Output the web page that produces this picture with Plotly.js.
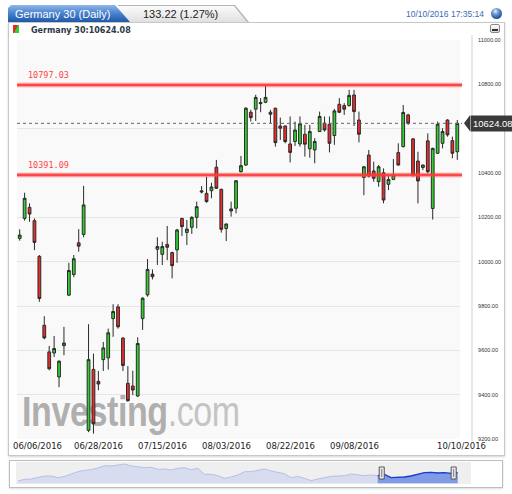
<!DOCTYPE html>
<html>
<head>
<meta charset="utf-8">
<script src="https://cdn.plot.ly/plotly-3.0.1.min.js"></script>
<style>
  html,body{margin:0;padding:0;background:#fff;overflow:hidden;width:512px;height:494px;}
  .abs{position:absolute;box-sizing:border-box;}
</style>
</head>
<body>
<div id="bg" class="abs" style="left:0;top:0;width:512px;height:494px;">
  <div class="abs" style="left:8px;top:22px;width:497px;height:434px;border:1px solid #c8c8c8;background:#fff;box-shadow:0 1px 2px rgba(0,0,0,0.18);"></div>
  <div class="abs" style="left:118px;top:5px;width:131px;height:17px;background:#b4b4b4;clip-path:polygon(0 0,117px 0,131px 100%,0 100%);"></div>
  <div class="abs" style="left:118px;top:6px;width:129px;height:16px;background:linear-gradient(#fbfbfb,#e0e0e0);clip-path:polygon(0 0,116px 0,129px 100%,0 100%);"></div>
  <div class="abs" style="left:8px;top:5px;width:122px;height:17px;background:linear-gradient(#8fb8ea 0%,#4d85cf 45%,#1e58a7 100%);clip-path:polygon(0 3px,3px 0,107px 0,122px 100%,0 100%);"></div>
  <div class="abs" style="left:491px;top:8px;width:11px;height:11px;border-radius:50%;background:radial-gradient(circle at 40% 30%,#e8f0fb 0%,#6f9ad6 30%,#24549f 70%,#173a78 100%);"></div>
  <div class="abs" style="left:13px;top:25px;width:6px;height:8px;background:linear-gradient(120deg,#e52a2a 50%,#2fcf2f 50%);"></div>
  <div class="abs" style="left:490px;top:24px;width:10px;height:9px;border:1px solid #8a8a8a;border-radius:2px;background:linear-gradient(#ffffff,#d8d8d8);"></div>
  <div class="abs" style="left:492px;top:29px;width:6px;height:2px;background:#333;"></div>
  <div class="abs" style="left:17px;top:40px;width:443px;height:399px;background:#f9f9f9;"></div>
  <div class="abs" style="left:22px;top:391px;white-space:nowrap;font-family:'Liberation Sans',Arial,sans-serif;font-size:42px;line-height:42px;transform:scaleX(0.81);transform-origin:left top;letter-spacing:-0.5px;"><span style="font-weight:bold;color:#afafaf;">Investing</span><span style="color:#c4c4c4;">.com</span></div>
  <div class="abs" style="left:9px;top:460px;width:494px;height:28px;border:1px solid #bdbdbd;background:#fff;box-shadow:0 1px 2px rgba(0,0,0,0.15);"></div>
  <div class="abs" style="left:16px;top:462px;width:455px;height:22px;background:#efefef;"></div>
</div>
<div id="chart" class="abs" style="left:0;top:0;width:512px;height:494px;"></div>
<script>
// ---------------- data ----------------
const dates = [
 "06/06/2016","06/07/2016","06/08/2016","06/09/2016","06/10/2016","06/13/2016","06/14/2016","06/15/2016","06/16/2016","06/17/2016",
 "06/20/2016","06/21/2016","06/22/2016","06/23/2016","06/24/2016","06/27/2016","06/28/2016","06/29/2016","06/30/2016",
 "07/01/2016","07/04/2016","07/05/2016","07/06/2016","07/07/2016","07/08/2016","07/11/2016","07/12/2016","07/13/2016","07/14/2016","07/15/2016",
 "07/18/2016","07/19/2016","07/20/2016","07/21/2016","07/22/2016","07/25/2016","07/26/2016","07/27/2016","07/28/2016","07/29/2016",
 "08/01/2016","08/02/2016","08/03/2016","08/04/2016","08/05/2016","08/08/2016","08/09/2016","08/10/2016","08/11/2016","08/12/2016",
 "08/15/2016","08/16/2016","08/17/2016","08/18/2016","08/19/2016","08/22/2016","08/23/2016","08/24/2016","08/25/2016","08/26/2016",
 "08/29/2016","08/30/2016","08/31/2016","09/01/2016","09/02/2016","09/05/2016","09/06/2016","09/07/2016","09/08/2016","09/09/2016",
 "09/12/2016","09/13/2016","09/14/2016","09/15/2016","09/16/2016","09/19/2016","09/20/2016","09/21/2016","09/22/2016","09/23/2016",
 "09/26/2016","09/27/2016","09/28/2016","09/29/2016","09/30/2016","10/04/2016","10/05/2016","10/06/2016","10/07/2016","10/10/2016"
];
const opens = [
 10105,10195,10245,10185,10024,9713,9593,9588,9480,9621,
 9849,9942,10085,10123,9239,9514,9460,9558,9566,
 9743,9796,9655,9451,9439,9394,9743,9850,9944,10056,10033,
 10078,10041,10053,10195,10132,10155,10200,10314,10308,10320,
 10426,10326,10150,10238,10241,10406,10436,10674,10688,10718,
 10719,10665,10692,10612,10612,10531,10542,10531,10575,10509,
 10504,10587,10625,10620,10569,10710,10704,10704,10752,10639,
 10380,10481,10409,10361,10401,10349,10371,10492,10519,10662,
 10554,10454,10425,10545,10240,10489,10534,10639,10546,10496
];
const highs = [
 10146,10311,10263,10195,10030,9754,9620,9665,9555,9706,
 9995,10030,10147,10342,9718,9585,9507,9638,9698,
 9808,9808,9660,9529,9508,9659,9840,10012,9965,10110,10090,
 10161,10045,10148,10198,10188,10205,10271,10341,10383,10356,
 10459,10330,10172,10271,10368,10477,10697,10685,10753,10738,
 10798,10685,10695,10650,10615,10655,10632,10655,10617,10617,
 10557,10677,10655,10655,10689,10738,10715,10775,10775,10677,
 10432,10504,10451,10436,10421,10386,10463,10534,10707,10667,
 10557,10496,10438,10579,10514,10632,10602,10642,10564,10639
];
const lows = [
 10095,10185,10180,10052,9819,9650,9510,9570,9434,9578,
 9845,9930,10045,10110,9231,9224,9420,9507,9513,
 9661,9698,9507,9368,9398,9390,9692,9842,9920,9985,9985,
 10007,9925,9995,10116,10075,10125,10150,10308,10266,10286,
 10328,10131,10093,10203,10218,10402,10432,10632,10635,10674,
 10715,10625,10519,10549,10534,10448,10522,10519,10474,10469,
 10444,10585,10587,10493,10527,10670,10662,10700,10612,10538,
 10300,10380,10361,10338,10263,10323,10368,10433,10515,10617,
 10383,10263,10413,10398,10190,10486,10511,10564,10466,10459
];
const closes = [
 10120,10286,10215,10087,9834,9656,9517,9608,9551,9633,
 9960,10013,10070,10256,9558,9269,9448,9611,9679,
 9775,9706,9532,9373,9421,9631,9835,9965,9932,10068,10068,
 10065,9982,10143,10158,10147,10200,10248,10319,10271,10337,
 10331,10146,10170,10229,10365,10433,10692,10650,10741,10713,
 10741,10674,10537,10602,10542,10493,10594,10622,10530,10587,
 10542,10655,10594,10534,10680,10674,10688,10750,10677,10575,
 10428,10386,10376,10428,10278,10371,10391,10436,10673,10624,
 10391,10364,10436,10406,10511,10620,10587,10572,10489,10624
];
const levels = [10797.03, 10391.09];
const lastPrice = 10624.08;
const changeText = "133.22 (1.27%)";
const yTicks = [9200, 9400, 9600, 9800, 10000, 10200, 10400, 10600, 10800, 11000];
const xTickLabels = ["06/06/2016","06/28/2016","07/15/2016","08/03/2016","08/22/2016","09/08/2016","10/10/2016"];
const navValues = [
 7,12,13,18,22,22,17,21,29,35,39,41,46,53,52,55,58,52,49,47,48,42,43,40,45,47,41,45,
 27,27,23,15,19,25,35,35,39,43,37,33,29,17,21,15,8,13,18,21,22,23,28,25,23,25,23,
 27,17,17,19,22,27,32,33,31,32,30,32
];
const navSelStart = 54;

// ---------------- helpers (pixel -> paper) ----------------
const W = 512, H = 494;
const PX = x => x / W;
const PY = y => 1 - y / H;

const navX = navValues.map((v, i) => i);

const traces = [
  {
    type: 'candlestick', x: dates, open: opens, high: highs, low: lows, close: closes,
    xaxis: 'x', yaxis: 'y',
    increasing: {fillcolor: '#2fd12f', line: {color: '#2a2a2a', width: 1}},
    decreasing: {fillcolor: '#ee2b2b', line: {color: '#2a2a2a', width: 1}},
    whiskerwidth: 0, hoverinfo: 'skip', showlegend: false
  },
  {
    type: 'scatter', mode: 'lines', x: navX, y: navValues, xaxis: 'x2', yaxis: 'y2',
    fill: 'tozeroy', fillcolor: '#d8dcef', line: {color: '#b7bfe8', width: 1},
    hoverinfo: 'skip', showlegend: false
  },
  {
    type: 'scatter', mode: 'lines', x: navX.slice(navSelStart), y: navValues.slice(navSelStart),
    xaxis: 'x2', yaxis: 'y2',
    fill: 'tozeroy', fillcolor: '#7f9be6', line: {color: '#1a3cd0', width: 1.3},
    hoverinfo: 'skip', showlegend: false
  }
];

const shapes = [];
// vertical separator between plot and price scale
shapes.push({type: 'line', xref: 'paper', yref: 'paper', x0: PX(472), x1: PX(472), y0: PY(35), y1: PY(441),
  line: {color: '#d2d2d2', width: 1}, layer: 'below'});
// support / resistance levels
levels.forEach(v => {
  shapes.push({type: 'line', xref: 'paper', yref: 'y', x0: PX(17), x1: PX(462), y0: v, y1: v,
    line: {color: 'rgba(255,80,80,0.35)', width: 5}, layer: 'above'});
  shapes.push({type: 'line', xref: 'paper', yref: 'y', x0: PX(17), x1: PX(462), y0: v, y1: v,
    line: {color: 'rgba(255,55,55,0.9)', width: 2.4}, layer: 'above'});
});
// last price dotted line
shapes.push({type: 'line', xref: 'paper', yref: 'y', x0: PX(17), x1: PX(462), y0: lastPrice, y1: lastPrice,
  line: {color: '#666', width: 1, dash: 'dot'}, layer: 'above'});
// price tag arrow
shapes.push({type: 'path', xref: 'paper', yref: 'y',
  path: `M ${PX(470)} ${lastPrice + 36} L ${PX(464)} ${lastPrice} L ${PX(470)} ${lastPrice - 36} Z`,
  fillcolor: '#3a3a3a', line: {width: 0}, layer: 'above'});
// navigator handles
[navSelStart + 0.6, navValues.length - 1 - 0.6].forEach(xv => {
  shapes.push({type: 'rect', xref: 'x2', yref: 'paper', x0: xv - 0.38, x1: xv + 0.38, y0: PY(479), y1: PY(467),
    fillcolor: '#ececec', line: {color: '#555', width: 1}, layer: 'above'});
  shapes.push({type: 'line', xref: 'x2', yref: 'paper', x0: xv, x1: xv, y0: PY(477), y1: PY(469),
    line: {color: '#777', width: 1}, layer: 'above'});
});

const annotations = [];
// header
annotations.push({xref: 'paper', yref: 'paper', x: PX(13), y: PY(14), xanchor: 'left', yanchor: 'middle',
  text: 'Germany 30 (Daily)', showarrow: false, font: {family: 'Liberation Sans, Arial, sans-serif', size: 11, color: '#ffffff'}});
annotations.push({xref: 'paper', yref: 'paper', x: PX(141), y: PY(14), xanchor: 'left', yanchor: 'middle',
  text: changeText, showarrow: false, font: {family: 'Liberation Sans, Arial, sans-serif', size: 11, color: '#222'}});
annotations.push({xref: 'paper', yref: 'paper', x: PX(486), y: PY(13.5), xanchor: 'right', yanchor: 'middle',
  text: '10/10/2016 17:35:14', showarrow: false, font: {family: 'Liberation Sans, Arial, sans-serif', size: 8.5, color: '#3a6db5'}});
annotations.push({xref: 'paper', yref: 'paper', x: PX(29), y: PY(30), xanchor: 'left', yanchor: 'middle',
  text: '<b>Germany 30:' + lastPrice.toFixed(2) + '</b>', showarrow: false,
  font: {family: 'DejaVu Sans, sans-serif', size: 8, color: '#2b3a48'}});
// level labels
levels.forEach(v => {
  annotations.push({xref: 'paper', yref: 'y', x: PX(26), y: v, yshift: 10, xanchor: 'left', yanchor: 'middle',
    text: v.toFixed(2), showarrow: false, font: {family: 'DejaVu Sans Mono, monospace', size: 8.5, color: '#ff4545'}});
});
// last price tag (kept inside the page width)
annotations.push({xref: 'paper', yref: 'y', x: PX(470), y: lastPrice, xanchor: 'left', yanchor: 'middle',
  text: lastPrice.toFixed(2), showarrow: false, bgcolor: '#3a3a3a', borderpad: 2,
  font: {family: 'Liberation Sans, Arial, sans-serif', size: 9.5, color: '#ffffff'}});
// date labels
xTickLabels.forEach((t, k) => {
  const idx = dates.indexOf(t);
  const a = {xref: 'x', yref: 'paper', x: idx, y: PY(446), yanchor: 'middle', xanchor: 'center',
    text: t, showarrow: false, font: {family: 'DejaVu Sans, sans-serif', size: 8.5, color: '#222'}};
  if (k === 0) { a.xanchor = 'left'; a.xshift = -9; }
  if (k === xTickLabels.length - 1) { a.xanchor = 'right'; a.xshift = 31; }
  annotations.push(a);
});

const layout = {
  width: W, height: H,
  margin: {l: 0, r: 0, t: 0, b: 0, pad: 0},
  paper_bgcolor: 'rgba(0,0,0,0)', plot_bgcolor: 'rgba(0,0,0,0)',
  showlegend: false, boxgap: 0.2,
  xaxis: {domain: [PX(17), PX(460)], type: 'category', range: [-0.55, dates.length - 1 + 0.55],
    showticklabels: false, showgrid: false, zeroline: false, showline: false, ticks: '',
    rangeslider: {visible: false}, fixedrange: true},
  yaxis: {domain: [PY(439), PY(40)], range: [9200, 11000], side: 'right',
    tickvals: yTicks, ticktext: yTicks.map(v => v === 10600 ? '' : v.toFixed(2)),
    tickfont: {family: 'Liberation Sans, Arial, sans-serif', size: 5.5, color: '#333'},
    ticks: 'outside', ticklen: 16, tickcolor: 'rgba(0,0,0,0)',
    showgrid: true, gridcolor: '#e6e6e6', gridwidth: 1, zeroline: false, showline: false, fixedrange: true},
  xaxis2: {domain: [PX(16), PX(471)], anchor: 'y2', range: [-0.3, 68], visible: false, fixedrange: true},
  yaxis2: {domain: [PY(484), PY(462)], anchor: 'x2', range: [-2, 64], visible: false, fixedrange: true},
  shapes: shapes,
  annotations: annotations
};

Plotly.newPlot('chart', traces, layout, {displayModeBar: false, staticPlot: true});
</script>
</body>
</html>
